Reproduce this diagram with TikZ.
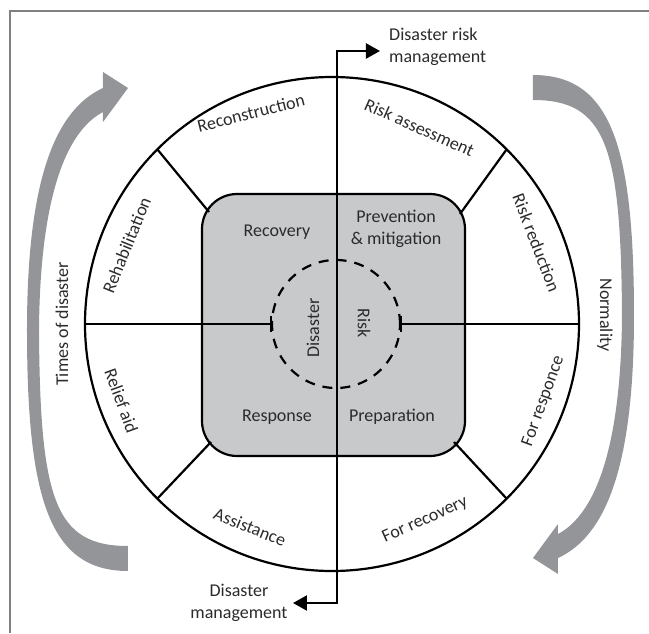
\documentclass[tikz,border=0pt]{standalone}
\usepackage{fontspec}
\setmainfont{Carlito}
\usetikzlibrary{arrows.meta,calc}
\definecolor{arrowgrey}{HTML}{939598}
\definecolor{boxgrey}{HTML}{C8C9CB}
\definecolor{txt}{HTML}{2B2B2B}
\definecolor{framegrey}{HTML}{808080}
\begin{document}
\begin{tikzpicture}[x=1pt,y=1pt,
  lbl/.style={font=\fontsize{18}{22}\selectfont, text=txt, inner sep=0pt, align=center},
  mainline/.style={line width=2.2pt, draw=black},
  bigarrow/.style={fill=arrowgrey},
]
\useasboundingbox (-332,-309) rectangle (317,324);
% frame
\draw[framegrey, line width=1.5pt] (-322,-309) -- (-322,313) -- (317,313);
% curved grey arrows
\fill[bigarrow] (-204,-247) .. controls (-282,-247) and (-305,-176) .. (-305,-6)
  .. controls (-305,144) and (-277,214) .. (-229,236) -- (-229,252) -- (-204,236)
  -- (-229,202) -- (-229,212) .. controls (-267,192) and (-292,124) .. (-293,-6)
  .. controls (-292,-176) and (-277,-222) .. (-204,-222) -- cycle;
\begin{scope}[rotate around={180:(-1.5,1)}]
\fill[bigarrow] (-204,-247) .. controls (-282,-247) and (-305,-176) .. (-305,-6)
  .. controls (-305,144) and (-277,214) .. (-229,236) -- (-229,252) -- (-204,236)
  -- (-229,202) -- (-229,212) .. controls (-267,192) and (-292,124) .. (-293,-6)
  .. controls (-292,-176) and (-277,-222) .. (-204,-222) -- cycle;
\end{scope}
% rounded square
\draw[mainline, fill=boxgrey, rounded corners=35pt] (-130,-132) rectangle (133,130);
% big circle
\coordinate (c) at (0,0);
\draw[mainline] (c) circle (247);
% diagonal lines
\coordinate (ulo) at (135:247); \coordinate (uli) at (-123,112);
\coordinate (uro) at (45:247);  \coordinate (uri) at (128,110);
\coordinate (llo) at (225:247); \coordinate (lli) at (-121,-118);
\coordinate (lro) at (315:247); \coordinate (lri) at (122,-118);
\draw[mainline] (ulo) -- (uli);
\draw[mainline] (uro) -- (uri);
\draw[mainline] (llo) -- (lli);
\draw[mainline] (lro) -- (lri);
% horizontal lines with bars
\coordinate (hl) at (-247,0); \coordinate (hli) at (-60,0);
\coordinate (hr) at (247,0);  \coordinate (hri) at (68,0);
\draw[mainline, -{Bar[width=16pt]}] (hl) -- (hli);
\draw[mainline, -{Bar[width=16pt]}] (hr) -- (hri);
% dashed circle
\draw[line width=2.2pt, dash pattern=on 10pt off 8pt] (4,0) circle (64);
% vertical line with arrows
\coordinate (bt) at (-39,-279);
\coordinate (bc) at (5,-279);
\coordinate (tc) at (5,273);
\coordinate (tt) at (48,273);
\draw[mainline, line join=miter, {Triangle[length=14pt,width=15pt]}-{Triangle[length=14pt,width=15pt]}] (bt) -- (bc) -- (tc) -- (tt);
% ring labels
\node[lbl, rotate=14]  (reconstruction) at (111:226) {Reconstruction};
\node[lbl, rotate=-24] (riskassess) at (66:215) {Risk assessment};
\node[lbl, rotate=-69] (riskred) at (21.6:220) {Risk reduction};
\node[lbl, rotate=70]  (forresp) at (-20:225) {For responce};
\node[lbl, rotate=24]  (forrec) at (-64.6:217) {For recovery};
\node[lbl, rotate=-22] (assist) at (-112:219) {Assistance};
\node[lbl, rotate=-70] (relief) at (200:224) {Relief aid};
\node[lbl, rotate=68]  (rehab) at (159:220) {Rehabilitation};
% inner labels
\node[lbl] (recovery) at (-55,92) {Recovery};
\node[lbl] (prev) at (64,95) {Prevention\\\& mitigation};
\node[lbl] (response) at (-55,-93) {Response};
\node[lbl] (prep) at (60,-93) {Preparation};
\node[lbl, rotate=90] (disaster) at (-19,-4) {Disaster};
\node[lbl, rotate=-90] (risk) at (32,1) {Risk};
% side labels
\node[lbl, rotate=90] (times) at (-270,0) {Times of disaster};
\node[lbl, rotate=-90] (normal) at (273,9) {Normality};
\node[lbl, anchor=west, align=left] (drm) at (57,277.5) {Disaster risk\\management};
\node[lbl] (dm) at (-93,-278.5) {Disaster\\management};
\end{tikzpicture}
\end{document}
